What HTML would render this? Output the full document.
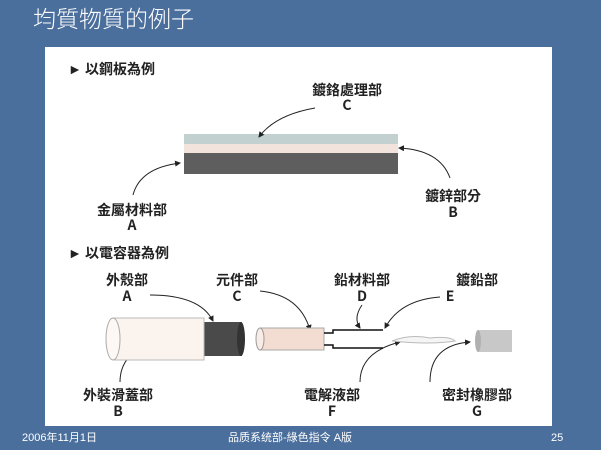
<!DOCTYPE html>
<html><head><meta charset="utf-8"><style>
body{margin:0;width:601px;height:450px;overflow:hidden;background:#4b6f9c;font-family:"Liberation Sans","Noto Sans CJK TC",sans-serif;}
</style></head><body>
<svg width="601" height="450" xmlns="http://www.w3.org/2000/svg" style="position:absolute;left:0;top:0">
<defs>
<marker id="ah" markerWidth="6" markerHeight="6" refX="5" refY="3" orient="auto"><path d="M0,0 L6,3 L0,6 z" fill="#222"/></marker>
</defs>
<rect width="601" height="450" fill="#4b6f9c"/>
<text x="33" y="27" font-size="23" fill="#fff" font-family="Noto Sans CJK TC,sans-serif" font-weight="300">均質物質的例子</text>
<rect x="45" y="47" width="507" height="379" fill="#fff"/>
<g font-family="Noto Sans CJK TC,sans-serif" fill="#222" font-size="14" font-weight="bold" text-anchor="middle">
<text x="68" y="74" text-anchor="start">► 以鋼板為例</text>
<text x="347" y="95">鍍鉻處理部</text><text x="347" y="110">C</text>
<text x="132" y="215">金屬材料部</text><text x="132" y="230">A</text>
<text x="453" y="201">鍍鋅部分</text><text x="453" y="217">B</text>
<text x="68" y="258" text-anchor="start">► 以電容器為例</text>
<text x="127" y="285">外殼部</text><text x="127" y="301">A</text>
<text x="237" y="285">元件部</text><text x="237" y="301">C</text>
<text x="362" y="285">鉛材料部</text><text x="362" y="301">D</text>
<text x="477" y="285">鍍鉛部</text><text x="450" y="301">E</text>
<text x="118" y="400">外裝滑蓋部</text><text x="118" y="416">B</text>
<text x="332" y="400">電解液部</text><text x="332" y="416">F</text>
<text x="477" y="400">密封橡膠部</text><text x="477" y="416">G</text>
</g>
<rect x="184" y="134" width="214" height="10" fill="#c2d0d0"/>
<rect x="184" y="144" width="214" height="9" fill="#f2e4dc"/>
<rect x="184" y="153" width="214" height="21" fill="#5e5e5e"/>
<g fill="none" stroke="#222" stroke-width="1" marker-end="url(#ah)">
<path d="M315,108 Q275,115 259,137"/>
<path d="M450,178 Q440,150 399,148"/>
<path d="M133,195 Q140,168 180,163"/>
<path d="M150,295 Q200,295 213,321"/>
<path d="M260,291 Q300,295 310,330"/>
<path d="M362,305 Q353,318 360,328"/>
<path d="M440,297 Q400,300 385,328"/>
<path d="M120,382 Q120,360 140,348"/>
<path d="M360,382 Q360,352 400,342"/>
<path d="M430,382 Q430,345 470,342"/>
</g>
<rect x="204" y="322" width="38" height="34" fill="#4a4a4a"/>
<ellipse cx="241" cy="339" rx="4" ry="17" fill="#333"/>
<rect x="113" y="318" width="91" height="42" fill="#fbf3ee" stroke="#bbb"/>
<ellipse cx="113" cy="339" rx="7" ry="21" fill="#fdf8f4" stroke="#aaa"/>
<rect x="260" y="328" width="64" height="22" fill="#f3ddd2" stroke="#aaa"/>
<ellipse cx="260" cy="339" rx="4" ry="11" fill="#f8ece6" stroke="#999"/>
<path d="M324,333 H333 V330 H383 M324,345 H333 V348 H383" fill="none" stroke="#111" stroke-width="1.5"/>
<path d="M392,341 Q410,334 430,338 Q450,336 455,341 Q430,345 392,341z" fill="#f5f5f5" stroke="#bbb"/>
<rect x="478" y="330" width="34" height="22" fill="#c8c8c8"/>
<ellipse cx="478" cy="341" rx="3" ry="11" fill="#b0b0b0"/>
<g font-family="Liberation Sans,sans-serif" fill="#fff" font-size="11">
<text x="22" y="441">2006年11月1日</text>
<text x="228" y="441">品质系统部-綠色指令 A版</text>
<text x="551" y="441">25</text>
</g>
</svg>
</body></html>
